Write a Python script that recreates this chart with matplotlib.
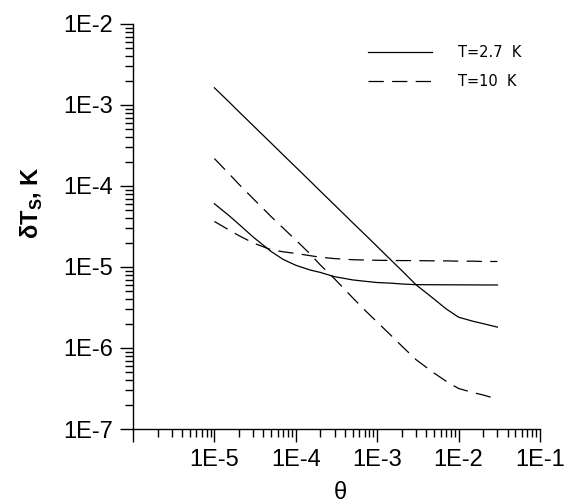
import matplotlib
matplotlib.use("Agg")
import matplotlib.pyplot as plt
from matplotlib.ticker import FixedLocator, FixedFormatter, LogLocator, NullFormatter

plt.rcParams['font.family'] = ['Liberation Sans', 'DejaVu Sans']
plt.rcParams['mathtext.fontset'] = 'custom'
plt.rcParams['mathtext.rm'] = 'Liberation Sans'
plt.rcParams['mathtext.bf'] = 'Liberation Sans:bold'
plt.rcParams['lines.scale_dashes'] = False

# ---- data ----
theta = [1e-5, 1.5e-5, 2e-5, 3e-5, 5e-5, 7e-5, 1e-4, 1.5e-4, 2e-4, 3e-4, 5e-4,
         7e-4, 1e-3, 1.5e-3, 2e-3, 3e-3, 5e-3, 7e-3, 1e-2, 1.5e-2, 2e-2, 3e-2]
t27_upper = [1.63e-3, 1.10e-3, 8.26e-4, 5.56e-4, 3.37e-4, 2.42e-4, 1.71e-4, 1.15e-4,
             8.65e-5, 5.82e-5, 3.52e-5, 2.54e-5, 1.79e-5, 1.20e-5, 9.06e-6, 6.03e-6,
             4.02e-6, 3.05e-6, 2.40e-6, 2.14e-6, 2.0e-6, 1.81e-6]
t27_lower = [6.04e-5, 4.34e-5, 3.37e-5, 2.34e-5, 1.55e-5, 1.24e-5, 1.05e-5, 9.18e-6,
             8.57e-6, 7.59e-6, 6.93e-6, 6.67e-6, 6.43e-6, 6.31e-6, 6.17e-6, 6.05e-6,
             6.04e-6, 6.03e-6, 6.02e-6, 6.01e-6, 6.0e-6, 6.0e-6]
t10_upper = [2.18e-4, 1.43e-4, 1.05e-4, 6.97e-5, 4.17e-5, 3.02e-5, 2.15e-5, 1.45e-5,
             1.06e-5, 7.13e-6, 4.17e-6, 2.95e-6, 2.09e-6, 1.41e-6, 1.06e-6, 7.18e-7,
             4.9e-7, 3.9e-7, 3.16e-7, 2.82e-7, 2.63e-7, 2.34e-7]
t10_lower = [3.65e-5, 2.88e-5, 2.44e-5, 1.98e-5, 1.63e-5, 1.54e-5, 1.47e-5, 1.38e-5,
             1.32e-5, 1.27e-5, 1.23e-5, 1.22e-5, 1.21e-5, 1.205e-5, 1.2e-5, 1.2e-5,
             1.19e-5, 1.19e-5, 1.18e-5, 1.18e-5, 1.17e-5, 1.17e-5]

x_major = [1e-6, 1e-5, 1e-4, 1e-3, 1e-2, 1e-1]
x_labels = ['', '1E-5', '1E-4', '1E-3', '1E-2', '1E-1']
y_major = [1e-7, 1e-6, 1e-5, 1e-4, 1e-3, 1e-2]
y_labels = ['1E-7', '1E-6', '1E-5', '1E-4', '1E-3', '1E-2']
legend_labels = ['T=2.7  K', 'T=10  K']

fig = plt.figure(figsize=(5.71, 5.04), dpi=100)
ax = fig.add_axes([133/571, 1 - 429/504, 407/571, 405/504])

lw = 0.9
dash = (11, 6)
l1, = ax.plot(theta, t27_upper, color='black', lw=lw)
ax.plot(theta, t27_lower, color='black', lw=lw)
l2, = ax.plot(theta, t10_upper, color='black', lw=lw, dashes=dash)
ax.plot(theta, t10_lower, color='black', lw=lw, dashes=dash)

ax.set_xscale('log')
ax.set_yscale('log')
ax.set_xlim(1e-6, 1e-1)
ax.set_ylim(1e-7, 1e-2)

ax.xaxis.set_major_locator(FixedLocator(x_major))
ax.xaxis.set_major_formatter(FixedFormatter(x_labels))
ax.yaxis.set_major_locator(FixedLocator(y_major))
ax.yaxis.set_major_formatter(FixedFormatter(y_labels))
ax.xaxis.set_minor_locator(LogLocator(base=10, subs=range(2, 10), numticks=20))
ax.yaxis.set_minor_locator(LogLocator(base=10, subs=range(2, 10), numticks=20))
ax.xaxis.set_minor_formatter(NullFormatter())
ax.yaxis.set_minor_formatter(NullFormatter())

ax.tick_params(which='major', direction='out', length=9.5, width=1, labelsize=17, pad=5, color='black')
ax.tick_params(which='minor', direction='out', length=5.5, width=1, color='black')

for s in ['top', 'right']:
    ax.spines[s].set_visible(False)
for s in ['left', 'bottom']:
    ax.spines[s].set_linewidth(1)

ax.set_xlabel('θ', fontsize=17)
ax.xaxis.set_label_coords(0.51, -0.13)
ax.set_ylabel('δT$_{\\mathbf{S}}$, K', fontsize=17, fontweight='bold')
ax.yaxis.set_label_coords(-0.215, 0.56)

leg = ax.legend([l1, l2], legend_labels, loc='upper left', bbox_to_anchor=(0.577, 0.947),
                frameon=False, fontsize=10.5, handlelength=4.4, handletextpad=1.75,
                labelspacing=0.95, borderpad=0, borderaxespad=0)
for t in leg.get_texts():
    t.set_family(['DejaVu Sans'])

fig.savefig('out.png', dpi=100)
